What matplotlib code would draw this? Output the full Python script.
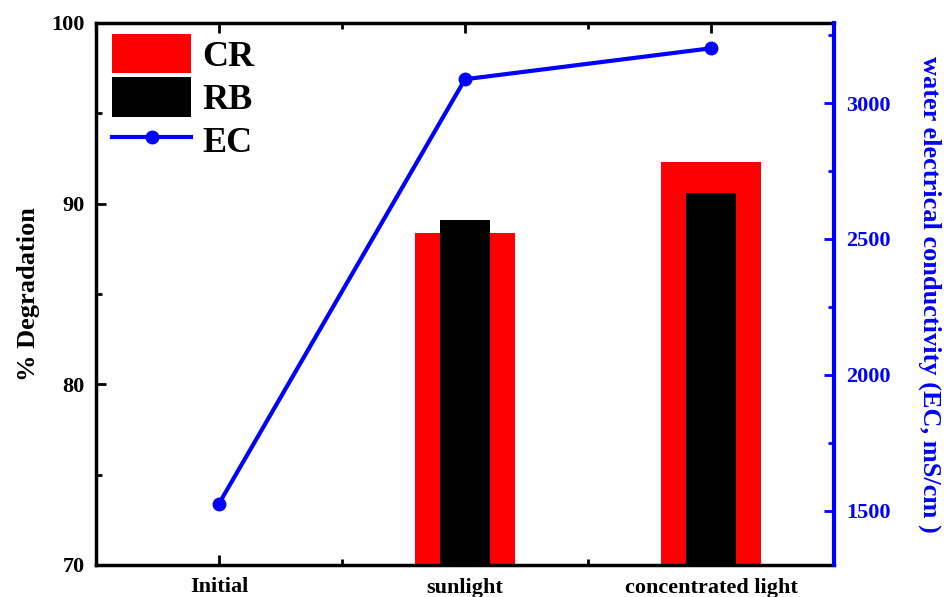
import numpy as np
import matplotlib.pyplot as plt
from matplotlib.ticker import MultipleLocator

plt.rcParams['font.family'] = ['Liberation Serif', 'DejaVu Serif']
plt.rcParams['font.weight'] = 'bold'

# data
categories = ["Initial", "sunlight", "concentrated light"]
cr_values = [np.nan, 88.4, 92.3]
rb_values = [np.nan, 89.1, 90.6]
ec_values = [1526, 3088, 3202]

x = np.arange(len(categories))

fig = plt.figure(figsize=(9.53, 5.97), dpi=100)
ax = fig.add_axes([96 / 953, 1 - 565 / 597, 738 / 953, 542 / 597])

ax.bar(x, cr_values, width=0.405, color='#ff0000', label='CR', zorder=2)
ax.bar(x, rb_values, width=0.2, color='black', label='RB', zorder=3)

ax.set_xlim(-0.5, 2.5)
ax.set_ylim(70, 100)
ax.set_xticks(x)
ax.set_xticklabels(categories)
ax.xaxis.set_minor_locator(MultipleLocator(0.5))
ax.yaxis.set_major_locator(MultipleLocator(10))
ax.yaxis.set_minor_locator(MultipleLocator(5))
ax.tick_params(axis='both', which='both', direction='in', top=True, right=False,
               width=2, labelsize=16)
ax.tick_params(axis='both', which='major', length=7)
ax.tick_params(axis='both', which='minor', length=4)
ax.tick_params(axis='x', which='major', pad=9)
ax.tick_params(axis='y', which='major', pad=8)
ax.set_ylabel('% Degradation', fontsize=19, fontweight='bold', labelpad=8)

for side in ['left', 'bottom', 'top']:
    ax.spines[side].set_linewidth(2.5)
ax.spines['right'].set_visible(False)

ax2 = ax.twinx()
ax2.plot(x, ec_values, color='#0000ff', lw=3, marker='o', markersize=9,
         label='EC', zorder=4)
ax2.set_ylim(1300, 3295)
ax2.yaxis.set_major_locator(MultipleLocator(500))
ax2.yaxis.set_minor_locator(MultipleLocator(250))
ax2.tick_params(axis='y', which='both', direction='in', colors='#0000ff',
                width=2, labelsize=16, pad=9)
ax2.tick_params(axis='y', which='major', length=7)
ax2.tick_params(axis='y', which='minor', length=4)
for lab in ax2.get_yticklabels():
    lab.set_fontweight('bold')
ax2.spines['right'].set_color('#0000ff')
ax2.spines['right'].set_linewidth(3)
for side in ['left', 'bottom', 'top']:
    ax2.spines[side].set_visible(False)
ax2.set_ylabel('water electrical conductivity (EC, mS/cm )', color='#0000ff',
               fontsize=19, fontweight='bold', rotation=270, labelpad=36)

h1, l1 = ax.get_legend_handles_labels()
h2, l2 = ax2.get_legend_handles_labels()
ax.legend(h1 + h2, l1 + l2, loc='upper left', frameon=False,
          prop={'size': 26, 'weight': 'bold'}, handlelength=2.2,
          handleheight=1.3, labelspacing=0.1, borderaxespad=0,
          borderpad=0.3, handletextpad=0.3, bbox_to_anchor=(0.007, 1.0))

fig.savefig('out.png', dpi=100)
